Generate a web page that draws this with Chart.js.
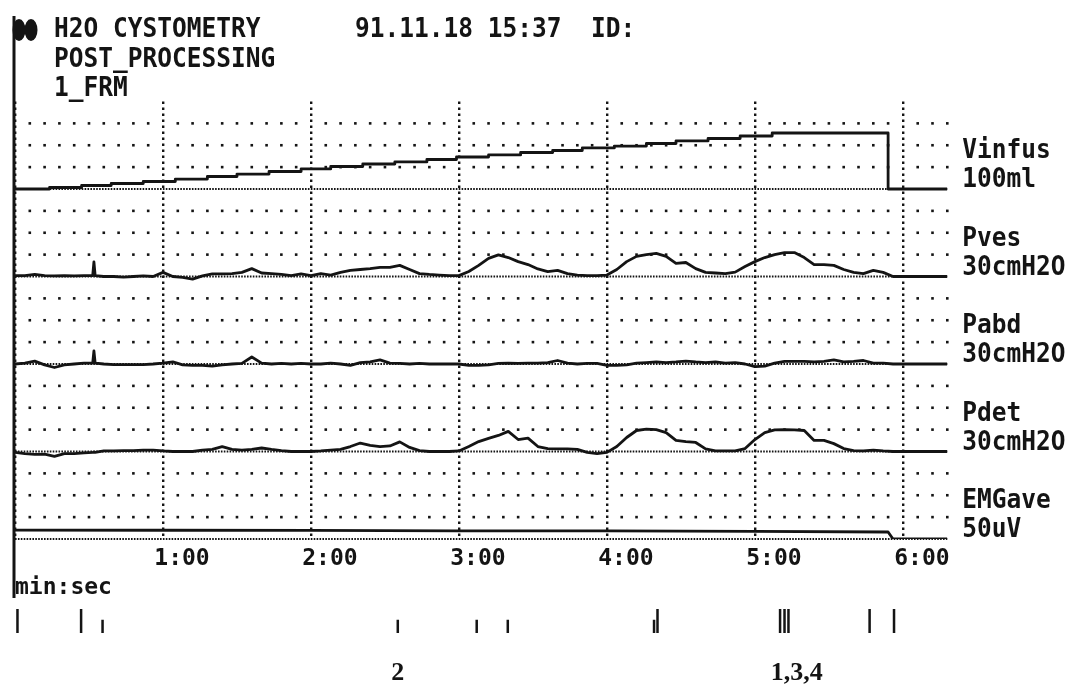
<!DOCTYPE html>
<html>
<head>
<meta charset="utf-8">
<title>H2O Cystometry</title>
<script src="https://cdn.jsdelivr.net/npm/chart.js@4/dist/chart.umd.min.js"></script>
<style>
  html, body { margin: 0; padding: 0; background: #fff; }
  #sheet { position: relative; width: 1074px; height: 684px; overflow: hidden; }
  #sheet canvas { position: absolute; left: 0; }
  #trace-canvas { top: 0; }
  #event-canvas { top: 600px; }
</style>
</head>
<body>
<div id="sheet">
  <canvas id="trace-canvas" width="1074" height="684"></canvas>
  <canvas id="event-canvas" width="1074" height="84"></canvas>
</div>
<script>
// ---- recording data (time in seconds) ----
const seconds = [
  0, 4, 8, 12, 16, 20, 24, 28, 31.5, 32, 32.5,
  36, 40, 44, 48, 52, 56,
  60, 64, 68, 72, 76, 80, 84, 88, 92, 96, 100, 104, 108, 112, 116,
  120, 124, 128, 132, 136, 140, 144, 148, 152, 156, 160, 164, 168, 172, 176,
  180, 184, 188, 192, 196, 200, 204, 208, 212, 216, 220, 224, 228, 232, 236,
  240, 244, 248, 252, 256, 260, 264, 268, 272, 276, 280, 284, 288, 292, 296,
  300, 304, 308, 312, 316, 320, 324, 328, 332, 336, 340, 344, 348, 352, 356,
  360, 364, 368, 372, 376, 378
];

// cmH2O
const pves = [
  0.3, 0.3, 0.7, 0.3, 0.2, 0.3, 0.2, 0.3, 0.3, 5.0, 0.3,
  0, 0, -0.2, 0, 0.2, 0,
  1.4, 0, -0.3, -0.9, 0.2, 0.9, 0.9, 1.0, 1.4, 2.7, 1.2, 1.0, 0.7, 0.3, 0.9,
  0.3, 1.0, 0.5, 1.4, 2.1, 2.4, 2.7, 3.1, 3.1, 3.8, 2.4, 1.0, 0.7, 0.5, 0.3,
  0.3, 1.7, 3.8, 6.2, 7.4, 6.5, 5.1, 4.1, 2.6, 1.7, 2.1, 1.0, 0.5, 0.3, 0.3,
  0.5, 2.4, 5.1, 6.9, 7.5, 7.9, 6.9, 4.5, 4.8, 2.7, 1.4, 1.2, 1.0, 1.5, 3.4,
  5.1, 6.5, 7.5, 8.2, 8.2, 6.5, 4.1, 4.1, 3.8, 2.4, 1.4, 1.0, 2.1, 1.4, 0,
  0, 0, 0, 0, 0, 0
];

const pabd = [
  0, 0.3, 1.0, -0.3, -1.2, -0.3, 0, 0.3, 0.3, 4.5, 0.3,
  0, -0.2, -0.2, -0.2, -0.2, 0,
  0.3, 0.7, -0.3, -0.5, -0.5, -0.7, -0.3, 0, 0.2, 2.4, 0.3, 0, 0.2, 0, 0.2,
  0, 0, 0.3, 0, -0.5, 0.5, 0.7, 1.4, 0.3, 0.2, 0, 0.2, 0, 0, 0,
  0, -0.5, -0.5, -0.3, 0.2, 0.3, 0.2, 0.3, 0.3, 0.5, 1.2, 0.3, 0, 0.2, 0.2,
  -0.5, -0.5, -0.3, 0.3, 0.5, 0.7, 0.5, 0.7, 1.0, 0.7, 0.5, 0.7, 0.3, 0.5, 0,
  -0.9, -0.7, 0.3, 0.9, 0.9, 0.9, 0.7, 0.9, 1.4, 0.7, 0.9, 1.2, 0.3, 0.3, 0,
  0, 0, 0, 0, 0, 0
];

const pdet = [
  -0.3, -0.7, -1.0, -0.9, -1.7, -0.7, -0.7, -0.5, -0.3, -0.2, -0.3,
  0.2, 0.2, 0.3, 0.3, 0.5, 0.5,
  0.2, 0, 0, 0, 0.5, 0.7, 1.7, 0.7, 0.5, 0.7, 1.2, 0.7, 0.3, 0, 0,
  0, 0.2, 0.5, 0.7, 1.7, 2.9, 2.1, 1.7, 1.9, 3.3, 1.4, 0.3, 0, 0, 0,
  0.2, 1.7, 3.4, 4.5, 5.5, 6.9, 4.1, 4.6, 1.7, 1.0, 0.9, 0.9, 0.7, -0.3, -0.7,
  -0.3, 1.7, 4.8, 7.2, 7.7, 7.5, 6.5, 3.8, 3.4, 3.1, 0.9, 0.2, 0.2, 0.2, 1.0,
  4.1, 6.5, 7.4, 7.5, 7.4, 7.2, 3.8, 3.8, 2.7, 1.0, 0.3, 0.2, 0.5, 0.2, 0,
  0, 0, 0, 0, 0, 0
];

// infused volume, ml (pump steps)
const vinfusSeconds = [0, 14, 27, 39, 52, 65, 78, 90, 103, 116, 128, 141, 154, 167,
  179, 192, 205, 218, 230, 243, 256, 268, 281, 294, 307, 354, 378];
const vinfusMl = [0, 1.7, 4.0, 6.3, 8.6, 11.4, 14.3, 17.1, 20.0, 22.9, 25.7, 28.6, 30.9, 33.7,
  36.6, 38.9, 41.7, 44.0, 46.9, 49.1, 52.0, 54.9, 57.7, 60.6, 64.0, 0, 0];

// averaged EMG, uV
const emgSeconds = [0, 60, 120, 180, 240, 300, 354, 356, 378];
const emgUv = [5.1, 5.0, 4.9, 4.7, 4.6, 4.3, 4.0, 0, 0];

// event marker row
const eventSeconds = [1, 26.8, 35.5, 155.2, 187.2, 199.8, 259.1, 260.5, 310.2, 312, 313.6, 346.5, 356.4];
const eventHeights = [1, 1, 0.55, 0.55, 0.55, 0.55, 0.55, 1, 1, 1, 1, 1, 1];
const noteLabels = ['2', '1,3,4'];
const noteSeconds = [155.2, 317];

const channelNames = ['Vinfus', 'Pves', 'Pabd', 'Pdet', 'EMGave'];
const channelRanges = ['100ml', '30cmH2O', '30cmH2O', '30cmH2O', '50uV'];
const channelFullScale = [100, 30, 30, 30, 50];

const tickSeconds = [60, 120, 180, 240, 300, 360];
const tickLabels = ['1:00', '2:00', '3:00', '4:00', '5:00', '6:00'];

const headerLines = ['H2O CYSTOMETRY', 'POST_PROCESSING', '1_FRM'];
const stampText = '91.11.18 15:37  ID:';

// ---- drawing ----
const INK = '#141414';
const MONO = '"DejaVu Sans Mono", monospace';
const END_SECOND = 378;
const ROWS = 4; // grid rows per channel
const PAD_LEFT = 15;
const PAD_RIGHT = 126.7;

Chart.defaults.color = INK;
Chart.defaults.font.family = MONO;

// each channel occupies its own band of rows, top channel first
const toRows = (k, v) => (channelNames.length - 1 - k) * ROWS + v / channelFullScale[k] * ROWS;

const series = [
  { t: vinfusSeconds, v: vinfusMl, stepped: 'before' },
  { t: seconds, v: pves },
  { t: seconds, v: pabd },
  { t: seconds, v: pdet },
  { t: emgSeconds, v: emgUv }
];

function plotterText(ctx, text, x, y) {
  ctx.save();
  ctx.translate(x, y);
  ctx.scale(1, 1.1);
  ctx.fillText(text, 0, 0);
  ctx.restore();
}

const dotGrid = {
  id: 'dotGrid',
  beforeDatasetsDraw(chart) {
    const { ctx, chartArea, scales: { x, y } } = chart;
    const top = channelNames.length * ROWS;
    ctx.save();
    ctx.fillStyle = INK;
    for (let row = 1; row < top; row++) {
      if (row % ROWS === 0) continue;
      const py = y.getPixelForValue(row);
      for (let s = 6; s <= x.max; s += 6) {
        if (s % 60 === 0) continue;
        ctx.fillRect(x.getPixelForValue(s) - 1.3, py - 1.3, 2.6, 2.6);
      }
    }
    // channel baselines
    ctx.strokeStyle = INK;
    ctx.lineWidth = 1.8;
    ctx.setLineDash([1.6, 1.3]);
    for (let row = 0; row < top; row += ROWS) {
      const py = y.getPixelForValue(row);
      ctx.beginPath();
      ctx.moveTo(chartArea.left, py);
      ctx.lineTo(chartArea.right, py);
      ctx.stroke();
    }
    ctx.restore();
  }
};

const sheetText = {
  id: 'sheetText',
  afterDraw(chart) {
    const { ctx, chartArea, scales: { y } } = chart;
    ctx.save();
    ctx.fillStyle = INK;
    // time axis spine
    ctx.fillRect(chartArea.left - 2.5, 16, 3, 582);
    // marker glyph in the corner
    ctx.beginPath();
    ctx.ellipse(19, 30, 6.5, 11, 0, 0, Math.PI * 2);
    ctx.ellipse(31, 30, 6.5, 11, 0, 0, Math.PI * 2);
    ctx.fill();

    ctx.font = 'bold 24.5px ' + MONO;
    ctx.textAlign = 'left';
    ctx.textBaseline = 'alphabetic';
    headerLines.forEach((line, i) => plotterText(ctx, line, 54, 37 + i * 29.5));
    plotterText(ctx, stampText, 355, 37);

    channelNames.forEach((name, k) => {
      const base = y.getPixelForValue((channelNames.length - 1 - k) * ROWS);
      plotterText(ctx, name, chartArea.right + 15, base - 31);
      plotterText(ctx, channelRanges[k], chartArea.right + 15, base - 2);
    });
    ctx.restore();
  }
};

new Chart(document.getElementById('trace-canvas'), {
  type: 'line',
  data: {
    datasets: series.map((s, k) => ({
      label: channelNames[k],
      data: s.t.map((t, i) => ({ x: t, y: toRows(k, s.v[i]) })),
      stepped: s.stepped || false,
      borderColor: INK,
      borderWidth: 2.8,
      borderJoinStyle: 'round',
      pointRadius: 0,
      tension: 0
    }))
  },
  options: {
    responsive: false,
    animation: false,
    layout: { padding: { left: PAD_LEFT, right: PAD_RIGHT, top: 101.5, bottom: 81.8 } },
    scales: {
      x: {
        type: 'linear',
        min: 0,
        max: END_SECOND,
        grid: { color: INK, lineWidth: 2.4, drawTicks: false },
        border: { display: false, dash: [2.4, 3.6] },
        ticks: {
          stepSize: 60,
          includeBounds: false,
          autoSkip: false,
          maxRotation: 0,
          labelOffset: 19,
          padding: 6,
          font: { size: 23, weight: 'bold' },
          callback: value => {
            const i = tickSeconds.indexOf(value);
            return i < 0 ? '' : tickLabels[i];
          }
        },
        title: {
          display: true,
          text: 'min:sec',
          align: 'start',
          font: { size: 23, weight: 'bold' },
          padding: { top: -4, bottom: 0 }
        }
      },
      y: {
        min: 0,
        max: channelNames.length * ROWS,
        display: false
      }
    },
    plugins: {
      legend: { display: false },
      tooltip: { enabled: false }
    }
  },
  plugins: [dotGrid, sheetText]
});

// event marks below the time axis
const eventData = [];
eventSeconds.forEach((s, i) => {
  eventData.push({ x: s, y: 0 }, { x: s, y: eventHeights[i] }, { x: s, y: null });
});

const eventNotes = {
  id: 'eventNotes',
  afterDraw(chart) {
    const { ctx, scales: { x } } = chart;
    ctx.save();
    ctx.fillStyle = INK;
    ctx.font = 'bold 26px "Liberation Serif", serif';
    ctx.textAlign = 'center';
    ctx.textBaseline = 'alphabetic';
    noteLabels.forEach((label, i) => ctx.fillText(label, x.getPixelForValue(noteSeconds[i]), 80));
    ctx.restore();
  }
};

new Chart(document.getElementById('event-canvas'), {
  type: 'line',
  data: {
    datasets: [{
      data: eventData,
      borderColor: INK,
      borderWidth: 2.5,
      pointRadius: 0,
      spanGaps: false,
      clip: false
    }]
  },
  options: {
    responsive: false,
    animation: false,
    layout: { padding: { left: PAD_LEFT, right: PAD_RIGHT, top: 9, bottom: 51 } },
    scales: {
      x: { type: 'linear', min: 0, max: END_SECOND, display: false },
      y: { min: 0, max: 1, display: false }
    },
    plugins: {
      legend: { display: false },
      tooltip: { enabled: false }
    }
  },
  plugins: [eventNotes]
});
</script>
</body>
</html>
